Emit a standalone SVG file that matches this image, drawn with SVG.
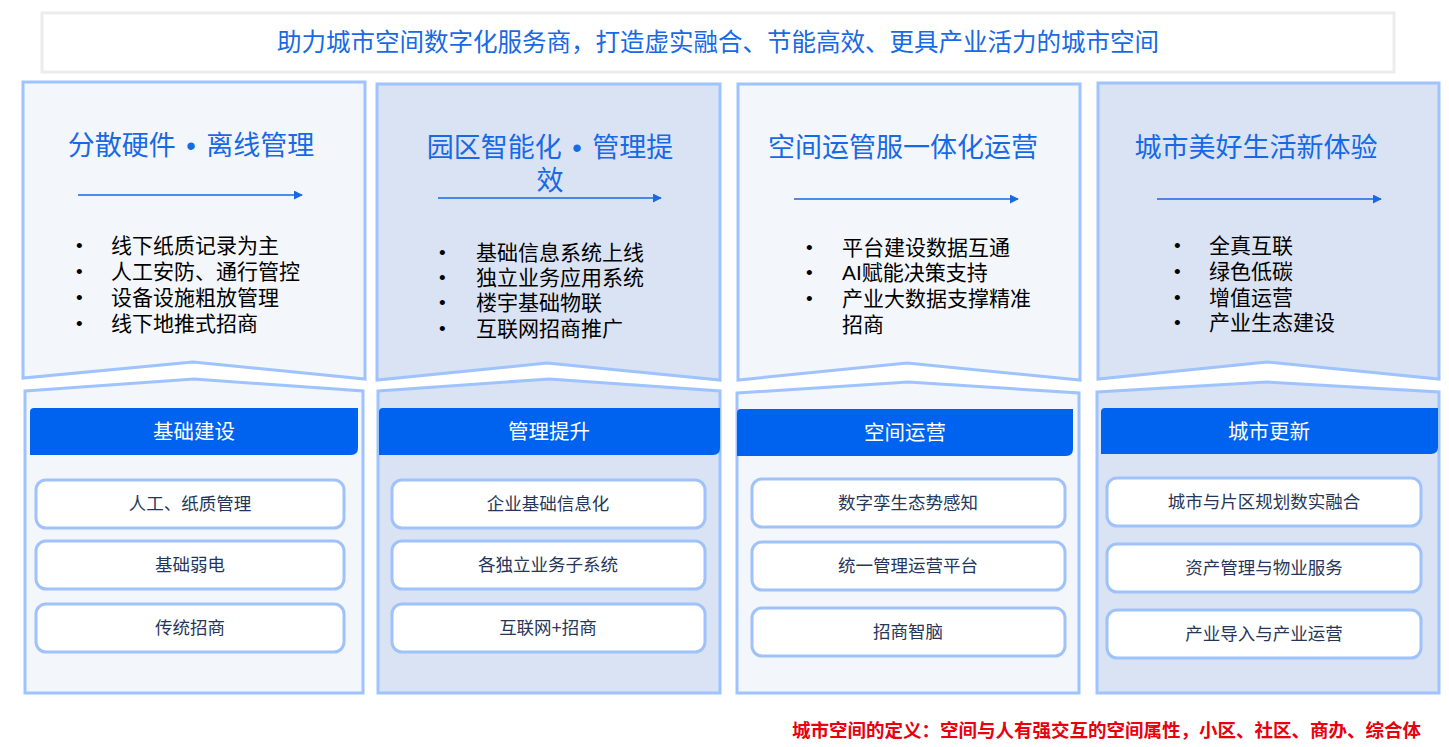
<svg xmlns="http://www.w3.org/2000/svg" width="1449" height="747" viewBox="0 0 1449 747">
<defs>
<style>
text{font-family:"Liberation Sans","Noto Sans CJK SC",sans-serif;}
.banner{fill:#fff;stroke:#ececec;stroke-width:3}
.maintitle{font-size:24.5px;fill:#1769e6;text-anchor:middle;dominant-baseline:central}
.pLight{fill:#f3f6fa;stroke:#9ec3ff;stroke-width:3}
.pDark{fill:#dae3f3;stroke:#9ec3ff;stroke-width:3}
.ctitle{font-size:27px;fill:#1769e6;text-anchor:middle;dominant-baseline:central}
.arrow{stroke:#1769e6;stroke-width:1.5;fill:none;marker-end:url(#ah)}
.dot{font-size:19px;fill:#000;dominant-baseline:central}
.bul{font-size:21px;fill:#000;dominant-baseline:central}
.hbar{fill:#0063ef}
.htext{font-size:20.5px;fill:#fff;text-anchor:middle;dominant-baseline:central}
.ibox{fill:#fff;stroke:#9fc2fb;stroke-width:3}
.itext{font-size:17.5px;fill:#26365a;text-anchor:middle;dominant-baseline:central}
.foot{font-size:18.5px;font-weight:bold;fill:#e8000e;text-anchor:end;dominant-baseline:central}
</style>
<marker id="ah" viewBox="0 0 10 10" refX="9" refY="5" markerWidth="6" markerHeight="6" markerUnits="strokeWidth" orient="auto">
<path d="M0,0 L10,5 L0,10 Z" fill="#1769e6"/>
</marker>
</defs>

<g id="banner">
<rect class="banner" x="42" y="13" width="1352" height="59"/>
<text class="maintitle" x="718" y="42">助力城市空间数字化服务商，打造虚实融合、节能高效、更具产业活力的城市空间</text>
</g>

<g id="col1-top">
<path class="pLight" d="M23,82 H365 V379 L193,362 L23,378 Z"/>
<text class="ctitle" x="191" y="146">分散硬件 <tspan dx="3">•</tspan><tspan dx="3"> 离线管理</tspan></text>
<text class="dot" x="76" y="245">•</text><text class="bul" x="111" y="245">线下纸质记录为主</text>
<text class="dot" x="76" y="271">•</text><text class="bul" x="111" y="271">人工安防、通行管控</text>
<text class="dot" x="76" y="297">•</text><text class="bul" x="111" y="297">设备设施粗放管理</text>
<text class="dot" x="76" y="323">•</text><text class="bul" x="111" y="323">线下地推式招商</text>
</g>

<g id="col2-top">
<path class="pDark" d="M377,84 H720 V380 L547,363 L377,380 Z"/>
<text class="ctitle" x="550" y="148">园区智能化 <tspan dx="3">•</tspan><tspan dx="3"> 管理提</tspan></text>
<text class="ctitle" x="550" y="181">效</text>
<text class="dot" x="439" y="252">•</text><text class="bul" x="476" y="252">基础信息系统上线</text>
<text class="dot" x="439" y="277">•</text><text class="bul" x="476" y="277">独立业务应用系统</text>
<text class="dot" x="439" y="302">•</text><text class="bul" x="476" y="302">楼宇基础物联</text>
<text class="dot" x="439" y="328">•</text><text class="bul" x="476" y="328">互联网招商推广</text>
</g>

<g id="col3-top">
<path class="pLight" d="M738,84 H1080 V380 L907,363 L738,380 Z"/>
<text class="ctitle" x="903" y="148">空间运管服一体化运营</text>
<text class="dot" x="806" y="247">•</text><text class="bul" x="842" y="247">平台建设数据互通</text>
<text class="dot" x="806" y="272">•</text><text class="bul" x="842" y="272">AI赋能决策支持</text>
<text class="dot" x="806" y="298">•</text><text class="bul" x="842" y="298">产业大数据支撑精准</text>
<text class="bul" x="842" y="324">招商</text>
</g>

<g id="col4-top">
<path class="pDark" d="M1098,83 H1439 V379 L1267,362 L1098,379 Z"/>
<text class="ctitle" x="1256" y="148">城市美好生活新体验</text>
<text class="dot" x="1174" y="245">•</text><text class="bul" x="1209" y="245">全真互联</text>
<text class="dot" x="1174" y="271">•</text><text class="bul" x="1209" y="271">绿色低碳</text>
<text class="dot" x="1174" y="297">•</text><text class="bul" x="1209" y="297">增值运营</text>
<text class="dot" x="1174" y="322">•</text><text class="bul" x="1209" y="322">产业生态建设</text>
</g>

<g id="col1-bottom">
<path class="pLight" d="M25,391 L194,379 L363,391 V693 H25 Z"/>
<path class="hbar" d="M34,408 H358 V448 Q358,455 351,455 H30 V412 Q30,408 34,408 Z"/>
<text class="htext" x="194" y="431">基础建设</text>
<rect class="ibox" x="36" y="480" width="308" height="48" rx="10"/>
<text class="itext" x="190" y="504">人工、纸质管理</text>
<rect class="ibox" x="36" y="541" width="308" height="48" rx="10"/>
<text class="itext" x="190" y="565">基础弱电</text>
<rect class="ibox" x="36" y="604" width="308" height="48" rx="10"/>
<text class="itext" x="190" y="628">传统招商</text>
</g>

<g id="col2-bottom">
<path class="pDark" d="M378,391 L549,379 L720,391 V693 H378 Z"/>
<path class="hbar" d="M383,408 H720 V448 Q720,455 713,455 H379 V412 Q379,408 383,408 Z"/>
<text class="htext" x="549" y="431">管理提升</text>
<rect class="ibox" x="392" y="480" width="313" height="48" rx="10"/>
<text class="itext" x="548" y="504">企业基础信息化</text>
<rect class="ibox" x="392" y="541" width="313" height="48" rx="10"/>
<text class="itext" x="548" y="565">各独立业务子系统</text>
<rect class="ibox" x="392" y="604" width="313" height="48" rx="10"/>
<text class="itext" x="548" y="628">互联网+招商</text>
</g>

<g id="col3-bottom">
<path class="pLight" d="M737,393 L908,382 L1079,393 V693 H737 Z"/>
<path class="hbar" d="M741,409 H1073 V449 Q1073,456 1066,456 H737 V413 Q737,409 741,409 Z"/>
<text class="htext" x="905" y="432">空间运营</text>
<rect class="ibox" x="752" y="479" width="313" height="48" rx="10"/>
<text class="itext" x="908" y="503">数字孪生态势感知</text>
<rect class="ibox" x="752" y="542" width="313" height="48" rx="10"/>
<text class="itext" x="908" y="566">统一管理运营平台</text>
<rect class="ibox" x="752" y="608" width="313" height="48" rx="10"/>
<text class="itext" x="908" y="632">招商智脑</text>
</g>

<g id="col4-bottom">
<path class="pDark" d="M1097,392 L1267,382 L1439,392 V693 H1097 Z"/>
<path class="hbar" d="M1105,408 H1438 V447 Q1438,454 1431,454 H1101 V412 Q1101,408 1105,408 Z"/>
<text class="htext" x="1269" y="431">城市更新</text>
<rect class="ibox" x="1107" y="478" width="314" height="48" rx="10"/>
<text class="itext" x="1264" y="502">城市与片区规划数实融合</text>
<rect class="ibox" x="1107" y="544" width="314" height="48" rx="10"/>
<text class="itext" x="1264" y="568">资产管理与物业服务</text>
<rect class="ibox" x="1107" y="610" width="314" height="48" rx="10"/>
<text class="itext" x="1264" y="634">产业导入与产业运营</text>
</g>

<g id="connectors">
<line class="arrow" x1="78" y1="195" x2="302" y2="195"/>
<line class="arrow" x1="438" y1="198" x2="661" y2="198"/>
<line class="arrow" x1="794" y1="199" x2="1018" y2="199"/>
<line class="arrow" x1="1157" y1="199" x2="1381" y2="199"/>
</g>

<g id="footnote">
<text class="foot" x="1421" y="730">城市空间的定义：空间与人有强交互的空间属性，小区、社区、商办、综合体</text>
</g>
</svg>
